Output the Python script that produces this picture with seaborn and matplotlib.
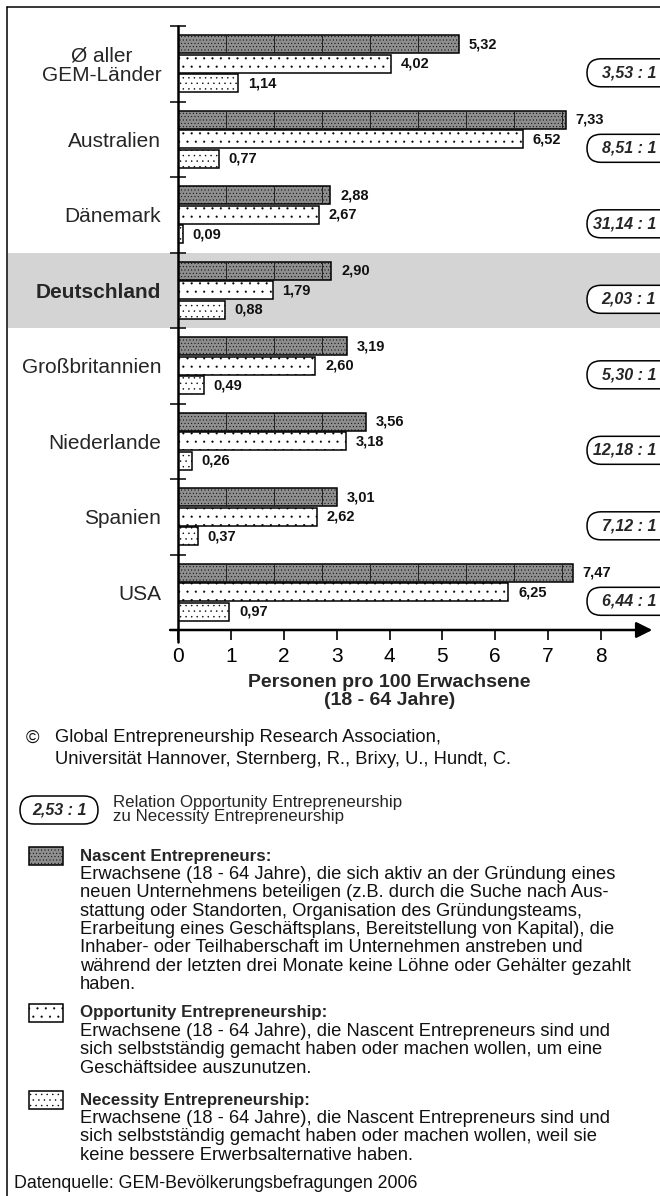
import matplotlib
matplotlib.use("Agg")
import matplotlib.pyplot as plt
from matplotlib.patches import Rectangle, FancyBboxPatch
from matplotlib.lines import Line2D
from matplotlib.transforms import IdentityTransform, blended_transform_factory
import numpy as np
import pandas as pd
import seaborn as sns

# Daten (GEM 2006)
laender = ['Ø aller\nGEM-Länder', 'Australien', 'Dänemark', 'Deutschland',
           'Großbritannien', 'Niederlande', 'Spanien', 'USA']
arten = ['Nascent', 'Opportunity', 'Necessity']
nascent = [5.32, 7.33, 2.88, 2.90, 3.19, 3.56, 3.01, 7.47]
opportunity = [4.02, 6.52, 2.67, 1.79, 2.60, 3.18, 2.62, 6.25]
necessity = [1.14, 0.77, 0.09, 0.88, 0.49, 0.26, 0.37, 0.97]
relation = ['3,53 : 1', '8,51 : 1', '31,14 : 1', '2,03 : 1',
            '5,30 : 1', '12,18 : 1', '7,12 : 1', '6,44 : 1']
xticks = [0, 1, 2, 3, 4, 5, 6, 7, 8]

W, H = 660, 1196
sns.set_theme(style='white')
plt.rcParams['font.family'] = ['Liberation Sans', 'DejaVu Sans']
plt.rcParams['hatch.linewidth'] = 0.3


def fx(px):
    return px / W


def fy(py):
    return 1 - py / H


df = pd.DataFrame({'land': laender * 3,
                   'art': np.repeat(arten, len(laender)),
                   'wert': nascent + opportunity + necessity})

fig = plt.figure(figsize=(W / 100, H / 100), dpi=100)
ax = fig.add_axes([fx(178), fy(630), 423 / W, 604 / H])
ax.patch.set_alpha(0)

sns.barplot(data=df, y='land', x='wert', hue='art', order=laender, hue_order=arten,
            orient='h', palette=['#8e8e8e', 'white', 'white'], saturation=1,
            edgecolor='black', linewidth=1.1, width=0.78, gap=0.08,
            legend=False, ax=ax, zorder=3)

ax.set_xlim(0, 8)
ax.set_ylim(7.5, -0.5)

hatches = ['.....', '..', '...']
for cont, hatch in zip(ax.containers, hatches):
    for bar in cont:
        bar.set_hatch(hatch)

# Trennlinien in den Nascent-Balken
for bar in ax.containers[0]:
    w = bar.get_width()
    xs = np.arange(0.907, w, 0.907)
    ax.vlines(xs, bar.get_y(), bar.get_y() + bar.get_height(), colors='#222222',
              lw=0.7, zorder=4)

def fmt(v):
    return f'{v:.2f}'.replace('.', ',')

for cont, vals in zip(ax.containers, [nascent, opportunity, necessity]):
    ax.bar_label(cont, labels=[fmt(v) for v in vals], padding=7, fontsize=10.5,
                 fontweight='bold', color='#111111')

# Hervorhebung Deutschland
blend = blended_transform_factory(fig.transFigure, ax.transData)
idx = laender.index('Deutschland')
ax.add_patch(Rectangle((fx(8), idx - 0.5), 1, 1, transform=blend, facecolor='#d4d4d4',
                       edgecolor='none', zorder=0, clip_on=False))

# Achsen
for s in ax.spines.values():
    s.set_visible(False)
ax.set_xticks(xticks)
ax.set_xticklabels([str(t) for t in xticks])
ax.tick_params(axis='x', direction='out', length=7, width=1.2, labelsize=15,
               pad=5, colors='black', bottom=True)
ax.set_yticks(range(len(laender)))
ax.set_yticks(np.arange(-0.5, len(laender)), minor=True)
ax.tick_params(axis='y', which='major', length=0, pad=12, labelsize=15)
ax.tick_params(axis='y', which='minor', direction='inout', length=11, width=1.3,
               left=True)
for lab in ax.get_yticklabels():
    lab.set_multialignment('center')
    lab.set_linespacing(1.0)
    if lab.get_text() == 'Deutschland':
        lab.set_fontweight('bold')
ax.set_ylabel('')
ax.set_xlabel('Personen pro 100 Erwachsene\n(18 - 64 Jahre)', fontsize=14,
              fontweight='bold', labelpad=6, linespacing=1.05)

ax.plot([0, 0], [-0.5, 7.66], color='black', lw=1.8, clip_on=False, zorder=5)
ax.annotate('', xy=(8.97, 7.5), xytext=(-0.15, 7.5), annotation_clip=False,
            arrowprops=dict(arrowstyle='-|>', mutation_scale=24, lw=1.8,
                            color='black', shrinkA=0, shrinkB=0), zorder=5)

# Verhaeltnis-Marken rechts
for i, txt in enumerate(relation):
    yv = i + 0.12
    ypix = ax.transData.transform((0, yv))[1]
    fig.add_artist(FancyBboxPatch((587, ypix - 14), 100, 28,
                                  boxstyle='round,pad=0,rounding_size=14',
                                  transform=IdentityTransform(), facecolor='white',
                                  edgecolor='black', lw=1.1, zorder=6))
    fig.text(fx(656), ypix / H, txt, ha='right', va='center',
             fontsize=11.5, fontweight='bold', fontstyle='italic', zorder=7)

# Rahmen
fig.add_artist(Line2D([fx(7), fx(7)], [fy(7), 0], color='black', lw=1.1))
fig.add_artist(Line2D([fx(7), 1], [fy(7), fy(7)], color='black', lw=1.1))

# Quelle / Legende
body = dict(fontsize=13.2, va='center', ha='left', color='#111111')
fig.text(fx(26), fy(738), '©', **body)
fig.text(fx(55), fy(738), 'Global Entrepreneurship Research Association,', **body)
fig.text(fx(55), fy(759), 'Universität Hannover, Sternberg, R., Brixy, U., Hundt, C.', **body)

fig.add_artist(FancyBboxPatch((20, H - 824), 78, 28,
                              boxstyle='round,pad=0,rounding_size=14',
                              transform=IdentityTransform(), facecolor='white',
                              edgecolor='black', lw=1.1))
fig.text(fx(59), fy(810), '2,53 : 1', ha='center', va='center', fontsize=11.5,
         fontweight='bold', fontstyle='italic')
fig.text(fx(113), fy(802), 'Relation Opportunity Entrepreneurship', fontsize=12.2,
         va='center', ha='left')
fig.text(fx(113), fy(817), 'zu Necessity Entrepreneurship', fontsize=12.2,
         va='center', ha='left')

legende = [
    ('Nascent Entrepreneurs:', 856,
     ['Erwachsene (18 - 64 Jahre), die sich aktiv an der Gründung eines',
      'neuen Unternehmens beteiligen (z.B. durch die Suche nach Aus-',
      'stattung oder Standorten, Organisation des Gründungsteams,',
      'Erarbeitung eines Geschäftsplans, Bereitstellung von Kapital), die',
      'Inhaber- oder Teilhaberschaft im Unternehmen anstreben und',
      'während der letzten drei Monate keine Löhne oder Gehälter gezahlt',
      'haben.']),
    ('Opportunity Entrepreneurship:', 1013,
     ['Erwachsene (18 - 64 Jahre), die Nascent Entrepreneurs sind und',
      'sich selbstständig gemacht haben oder machen wollen, um eine',
      'Geschäftsidee auszunutzen.']),
    ('Necessity Entrepreneurship:', 1100,
     ['Erwachsene (18 - 64 Jahre), die Nascent Entrepreneurs sind und',
      'sich selbstständig gemacht haben oder machen wollen, weil sie',
      'keine bessere Erwerbsalternative haben.']),
]
farben = ['#8e8e8e', 'white', 'white']
for (titel, y0, zeilen), farbe, hatch in zip(legende, farben, hatches):
    fig.add_artist(Rectangle((29, H - y0 - 9), 34, 18, transform=IdentityTransform(),
                             facecolor=farbe, edgecolor='black', lw=1.1, hatch=hatch))
    fig.text(fx(80), fy(y0), titel, fontsize=12.2, fontweight='bold', va='center')
    for k, z in enumerate(zeilen):
        fig.text(fx(80), fy(y0 + 18.4 * (k + 1)), z, **body)

fig.text(fx(14), fy(1183), 'Datenquelle: GEM-Bevölkerungsbefragungen 2006',
         fontsize=12.8, va='center', ha='left', color='#111111')

fig.savefig('out.png', dpi=100)
